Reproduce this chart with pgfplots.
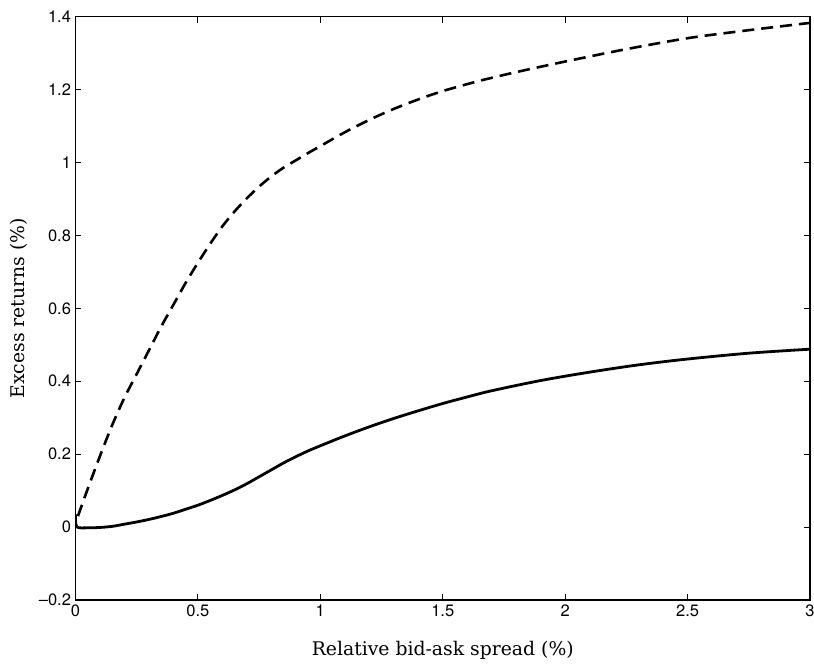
\documentclass[border=0pt]{standalone}
\usepackage{fontspec}
\usepackage{pgfplots}
\pgfplotsset{compat=1.18}
\newfontfamily\helv{TeX Gyre Heros}
\newfontfamily\labfont{DejaVu Serif}

\begin{document}
\begin{tikzpicture}
\begin{axis}[
    scale only axis,
    width=734.5pt, height=583.3pt,
    xmin=0, xmax=3,
    ymin=-0.2, ymax=1.4,
    xtick={0,0.5,1,1.5,2,2.5,3},
    xticklabels={0,0.5,1,1.5,2,2.5,3},
    ytick={-0.2,0,0.2,0.4,0.6,0.8,1,1.2,1.4},
    yticklabels={\textendash0.2,0,0.2,0.4,0.6,0.8,1,1.2,1.4},
    tick align=inside,
    major tick length=6pt,
    tick style={black, line width=1pt},
    axis line style={line width=1.1pt},
    ticklabel style={font=\helv\fontsize{16.5}{19}\selectfont},
    xticklabel style={yshift=-1pt},
    yticklabel style={xshift=-1pt},
    xlabel={Relative bid-ask spread (\%)},
    ylabel={Excess returns (\%)},
    label style={font=\labfont\fontsize{18.8}{22}\selectfont},
    xlabel style={yshift=-18pt},
    ylabel style={yshift=5pt},
]
% dashed series
\addplot[black, line width=2.6pt, dash pattern=on 12pt off 7pt, smooth] coordinates {
    (0.01,0.03) (0.05,0.105) (0.10,0.195) (0.15,0.28) (0.20,0.355)
    (0.25,0.42) (0.30,0.485) (0.35,0.55) (0.40,0.61) (0.45,0.67)
    (0.50,0.725) (0.55,0.777) (0.60,0.825) (0.65,0.866) (0.70,0.902)
    (0.75,0.934) (0.80,0.962) (0.85,0.986) (0.90,1.006) (0.95,1.026)
    (1.00,1.045) (1.10,1.083) (1.20,1.117) (1.30,1.147) (1.40,1.173)
    (1.50,1.196) (1.65,1.224) (1.80,1.248) (2.00,1.277) (2.25,1.311)
    (2.50,1.341) (2.75,1.363) (3.00,1.383)
};
% solid series
\addplot[black, line width=2.8pt, smooth] coordinates {
    (0,0.035) (0.005,0.001) (0.05,-0.002) (0.10,-0.001) (0.15,0.002)
    (0.20,0.008) (0.25,0.014) (0.30,0.021) (0.35,0.029) (0.40,0.038)
    (0.45,0.049) (0.50,0.060) (0.55,0.073) (0.60,0.087) (0.65,0.102)
    (0.70,0.119) (0.75,0.138) (0.80,0.157) (0.85,0.176) (0.90,0.193)
    (0.95,0.209) (1.00,0.223) (1.10,0.250) (1.20,0.275) (1.30,0.298)
    (1.40,0.319) (1.50,0.339) (1.60,0.357) (1.70,0.374) (1.90,0.402)
    (2.10,0.425) (2.30,0.445) (2.50,0.461) (2.75,0.477) (3.00,0.488)
};
\end{axis}
\pgfresetboundingbox
\path (-75.5pt,-68pt) rectangle (738.5pt,600pt);
\end{tikzpicture}
\end{document}
